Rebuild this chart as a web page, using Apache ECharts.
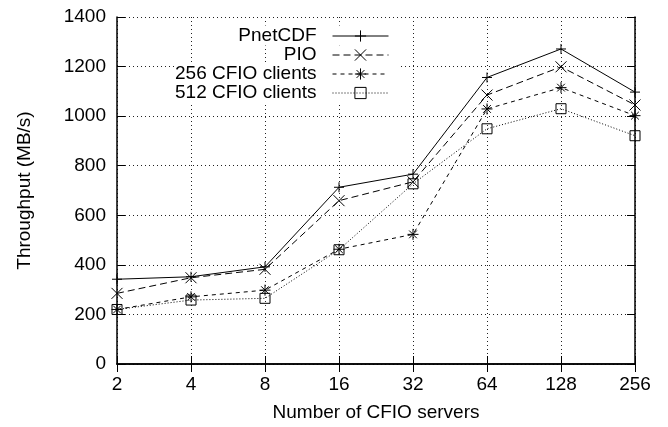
<!DOCTYPE html>
<html>
<head>
<meta charset="utf-8">
<script src="https://cdn.jsdelivr.net/npm/echarts@6/dist/echarts.min.js"></script>
<style>
html,body{margin:0;padding:0;background:#fff;}
#chart{width:668px;height:427px;}
</style>
</head>
<body>
<div id="chart"></div>
<script>
var categories = ['2', '4', '8', '16', '32', '64', '128', '256'];
var seriesNames = ['PnetCDF', 'PIO', '256 CFIO clients', '512 CFIO clients'];
var pnetcdf = [342, 352, 392, 713, 766, 1156, 1271, 1097];
var pio = [285, 348, 382, 659, 735, 1085, 1199, 1045];
var cfio256 = [220, 271, 298, 463, 523, 1029, 1115, 1002];
var cfio512 = [220, 258, 265, 461, 727, 949, 1030, 921];
var yTicks = [0, 200, 400, 600, 800, 1000, 1200, 1400];

var FONT = '"Liberation Sans", Arial, Helvetica, sans-serif';
var FS = 19;

var SYM_PLUS = 'path://M5,0L5,10M0,5L10,5';
var SYM_CROSS = 'path://M0,0L10,10M0,10L10,0';
var SYM_STAR = 'path://M5,0L5,10M0,5L10,5M1.5,1.5L8.5,8.5M1.5,8.5L8.5,1.5';
var SYM_SQUARE = 'path://M0,0L10,0L10,10L0,10Z';

var chart = echarts.init(document.getElementById('chart'), null, {renderer: 'canvas'});

function mkSeries(name, data, symbol, size, dash, fill) {
  return {
    name: name,
    type: 'line',
    data: data,
    xAxisIndex: 0,
    yAxisIndex: 0,
    symbol: symbol,
    symbolSize: size,
    showAllSymbol: true,
    lineStyle: {color: '#000', width: 1, type: dash},
    itemStyle: {color: fill, borderColor: '#000', borderWidth: 1},
    emphasis: {disabled: true},
    z: 3
  };
}

function mkLegend(name, top, pad) {
  return {
    data: [name],
    orient: 'horizontal',
    right: 270,
    top: top,
    align: 'right',
    padding: pad,
    backgroundColor: '#fff',
    itemWidth: 56,
    itemHeight: 14,
    selectedMode: false,
    lineStyle: {width: 1},
    itemStyle: {borderWidth: 1},
    textStyle: {
      fontFamily: FONT, fontSize: FS, color: '#000',
      width: 191, align: 'right', padding: [0, 11, 0, 0]
    }
  };
}

var axisLineStyle = {show: true, lineStyle: {color: '#000', width: 1.5}};
var tickStyle = {show: true, inside: true, length: 8, lineStyle: {color: '#000', width: 1}};
var gridLine = {show: true, lineStyle: {color: '#222', width: 1, type: [1, 3]}};

var option = {
  animation: false,
  backgroundColor: '#fff',
  grid: {left: 117, right: 33, top: 17, bottom: 63, containLabel: false},
  legend: [
    mkLegend(seriesNames[0], 25.5, [1, 9, 0, 0]),
    mkLegend(seriesNames[1], 45.5, [0, 9, 0, 0]),
    mkLegend(seriesNames[2], 64.5, [0, 9, 0, 0]),
    mkLegend(seriesNames[3], 83.5, [0, 9, 2, 0])
  ],
  xAxis: [{
    type: 'category',
    position: 'bottom',
    data: categories,
    boundaryGap: false,
    name: 'Number of CFIO servers',
    nameLocation: 'middle',
    nameGap: 39,
    nameTextStyle: {fontFamily: FONT, fontSize: FS, color: '#000'},
    axisLine: axisLineStyle,
    axisTick: {show: true, inside: true, length: 8, alignWithLabel: true, lineStyle: {color: '#000', width: 1}},
    axisLabel: {fontFamily: FONT, fontSize: FS, color: '#000', margin: 11, interval: 0},
    splitLine: gridLine
  }, {
    type: 'category',
    position: 'top',
    data: categories,
    boundaryGap: false,
    axisLine: axisLineStyle,
    axisTick: {show: true, inside: true, length: 8, alignWithLabel: true, lineStyle: {color: '#000', width: 1}},
    axisLabel: {show: false},
    splitLine: {show: false}
  }],
  yAxis: [{
    type: 'value',
    position: 'left',
    min: yTicks[0],
    max: yTicks[yTicks.length - 1],
    interval: 200,
    name: 'Throughput (MB/s)',
    nameLocation: 'middle',
    nameGap: 83,
    nameTextStyle: {fontFamily: FONT, fontSize: FS, color: '#000'},
    axisLine: axisLineStyle,
    axisTick: tickStyle,
    axisLabel: {fontFamily: FONT, fontSize: FS, color: '#000', margin: 11,
      formatter: function (v) { return String(v); }},
    splitLine: gridLine
  }, {
    type: 'value',
    position: 'right',
    min: yTicks[0],
    max: yTicks[yTicks.length - 1],
    interval: 200,
    axisLine: axisLineStyle,
    axisTick: tickStyle,
    axisLabel: {show: false},
    splitLine: {show: false}
  }],
  series: [
    mkSeries(seriesNames[0], pnetcdf, SYM_PLUS, 10, 'solid', '#000'),
    mkSeries(seriesNames[1], pio, SYM_CROSS, 11, [7, 4], '#000'),
    mkSeries(seriesNames[2], cfio256, SYM_STAR, 11, [4, 4], '#000'),
    mkSeries(seriesNames[3], cfio512, SYM_SQUARE, 10, [1, 2], 'rgba(0,0,0,0)')
  ]
};
chart.setOption(option);
</script>
</body>
</html>
